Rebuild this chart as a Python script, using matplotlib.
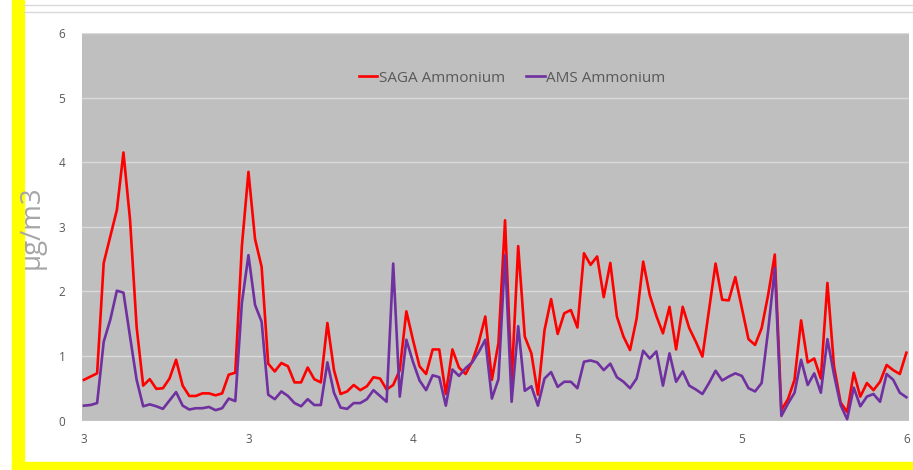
import matplotlib
matplotlib.use('Agg')
from matplotlib import pyplot
from matplotlib.lines import Line2D
import numpy

saga = [0.63, 0.68, 0.73, 2.44, 2.85, 3.26, 4.15, 3.11, 1.45, 0.54,
        0.64, 0.49, 0.50, 0.65, 0.94, 0.54, 0.38, 0.38, 0.42, 0.42,
        0.39, 0.42, 0.71, 0.74, 2.70, 3.85, 2.81, 2.38, 0.88, 0.76,
        0.89, 0.84, 0.59, 0.59, 0.82, 0.64, 0.59, 1.51, 0.78, 0.41,
        0.45, 0.55, 0.47, 0.53, 0.67, 0.65, 0.48, 0.55, 0.78, 1.69,
        1.25, 0.84, 0.72, 1.10, 1.10, 0.41, 1.10, 0.82, 0.72, 0.91,
        1.21, 1.61, 0.63, 1.20, 3.10, 0.60, 2.70, 1.30, 1.04, 0.40,
        1.40, 1.88, 1.34, 1.66, 1.71, 1.44, 2.59, 2.41, 2.54, 1.91,
        2.44, 1.61, 1.30, 1.09, 1.58, 2.46, 1.94, 1.62, 1.35, 1.76,
        1.10, 1.76, 1.43, 1.22, 0.99, 1.71, 2.43, 1.87, 1.86, 2.22,
        1.74, 1.26, 1.17, 1.43, 1.95, 2.57, 0.16, 0.33, 0.63, 1.55,
        0.90, 0.96, 0.65, 2.13, 0.84, 0.28, 0.13, 0.74, 0.37, 0.58,
        0.47, 0.60, 0.86, 0.78, 0.72, 1.05]

ams = [0.23, 0.24, 0.27, 1.22, 1.56, 2.01, 1.98, 1.30, 0.63, 0.22,
       0.25, 0.22, 0.18, 0.31, 0.44, 0.23, 0.17, 0.19, 0.19, 0.21,
       0.16, 0.19, 0.34, 0.30, 1.82, 2.56, 1.79, 1.53, 0.40, 0.33,
       0.45, 0.38, 0.27, 0.22, 0.33, 0.24, 0.24, 0.90, 0.43, 0.20,
       0.18, 0.27, 0.27, 0.33, 0.47, 0.38, 0.29, 2.43, 0.37, 1.25,
       0.91, 0.62, 0.47, 0.70, 0.67, 0.23, 0.79, 0.69, 0.81, 0.90,
       1.06, 1.25, 0.34, 0.64, 2.56, 0.29, 1.46, 0.46, 0.53, 0.23,
       0.65, 0.75, 0.52, 0.60, 0.60, 0.50, 0.91, 0.93, 0.90, 0.78,
       0.88, 0.67, 0.60, 0.50, 0.65, 1.08, 0.96, 1.07, 0.54, 1.04,
       0.60, 0.76, 0.54, 0.48, 0.41, 0.58, 0.77, 0.62, 0.68, 0.73,
       0.69, 0.50, 0.45, 0.58, 1.40, 2.36, 0.07, 0.26, 0.43, 0.94,
       0.55, 0.73, 0.43, 1.26, 0.71, 0.24, 0.02, 0.51, 0.22, 0.37,
       0.41, 0.29, 0.72, 0.63, 0.43, 0.36]

x_labels = ['3', '3', '4', '5', '5', '6']
y_ticks = [0, 1, 2, 3, 4, 5, 6]

font = 'Open Sans'
grey_text = '#595959'

fig = pyplot.figure(figsize=(9.13, 4.70), dpi=100)
fig.patch.set_facecolor('white')

# yellow frame strips and the two faint lines at the top
fig.add_artist(pyplot.Rectangle((12/913, 0), 12/913, 1, transform=fig.transFigure, color='#ffff00', zorder=0))
fig.add_artist(pyplot.Rectangle((12/913, 0), 1, 8.5/470, transform=fig.transFigure, color='#ffff00', zorder=0))
for yy in (5, 12):
    fig.add_artist(Line2D([24/913, 1], [1 - yy/470, 1 - yy/470], transform=fig.transFigure, color='#d9d9d9', lw=1))

ax = fig.add_axes([82/913, 49.5/470, 827/913, 387.5/470])
ax.set_facecolor('#bfbfbf')

x = numpy.arange(len(saga))
ax.plot(x, saga, color='#ff0000', lw=1.9, label='SAGA Ammonium', zorder=3)
ax.plot(x, ams, color='#7030a0', lw=1.9, label='AMS Ammonium', zorder=3)

ax.set_xlim(-0.3, len(saga) - 0.6)
ax.set_ylim(0, 6)
ax.set_yticks(y_ticks)
ax.set_xticks(numpy.linspace(0, len(saga) - 1, len(x_labels)))
ax.set_xticklabels(x_labels)

for s in ax.spines.values():
    s.set_visible(False)
ax.tick_params(length=0, colors=grey_text, labelsize=8.5)
ax.tick_params(axis='y', pad=12)
ax.tick_params(axis='x', pad=9)
for lab in ax.get_xticklabels() + ax.get_yticklabels():
    lab.set_family(font)

ax.grid(axis='y', color='#d9d9d9', lw=1)
ax.set_axisbelow(True)

ax.set_ylabel('µg/m3', fontsize=20, color='#a6a6a6', family=font, labelpad=9)

leg = ax.legend(loc='center', bbox_to_anchor=(0.52, 0.883), ncol=2, frameon=False,
                handlelength=1.2, handletextpad=0.1, columnspacing=1.4,
                prop={'family': font, 'size': 11})
for t in leg.get_texts():
    t.set_color(grey_text)

fig.savefig('out.png', dpi=100)
